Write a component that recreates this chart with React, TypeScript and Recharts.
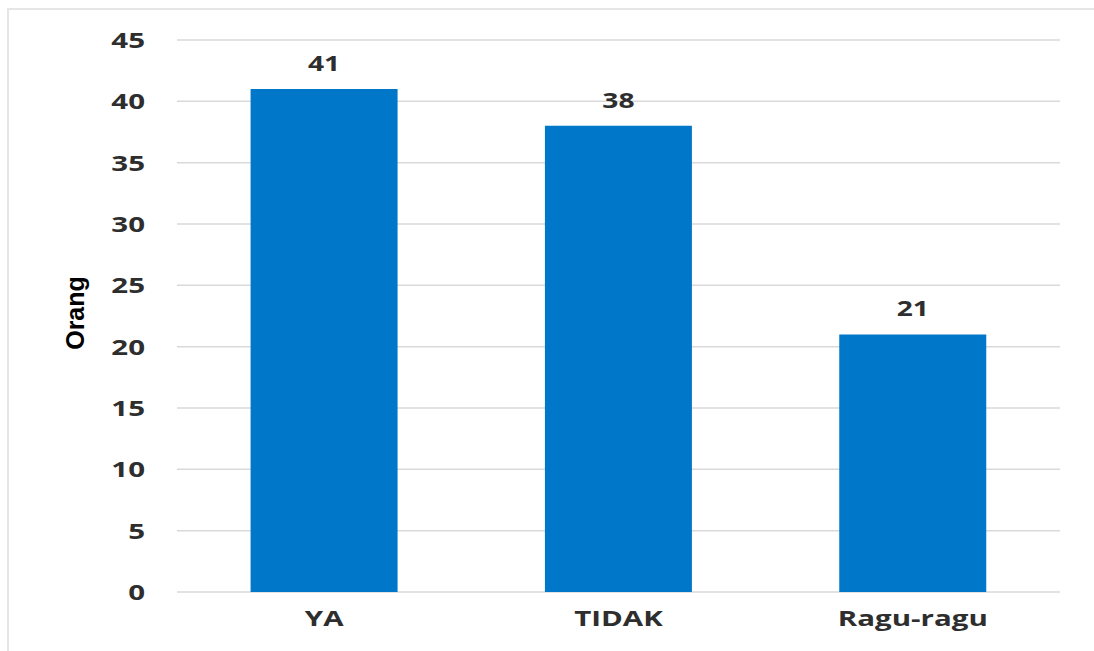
import React from "react";
import { BarChart, Bar, XAxis, YAxis, CartesianGrid, LabelList, Label } from "recharts";

const categories = ["YA", "TIDAK", "Ragu-ragu"];
const values = [41, 38, 21];
const yTicks = [0, 5, 10, 15, 20, 25, 30, 35, 40, 45];

const data = categories.map((name, i) => ({ name, value: values[i] }));

const textColor = "#2e2e2e";
const font = "'Open Sans', sans-serif";
const SX = 1.34;

function StretchText(props: { x: number; y: number; anchor: string; size: number; children: any }) {
  const { x, y, anchor, size, children } = props;
  return (
    <g transform={`translate(${x},${y}) scale(${SX},1)`}>
      <text x={0} y={0} textAnchor={anchor} fill={textColor} fontSize={size} fontWeight={700} fontFamily={font}>
        {children}
      </text>
    </g>
  );
}

const YTick = (props: any) => {
  const { x, y, payload } = props;
  return <StretchText x={x} y={y + 8} anchor="end" size={22}>{payload.value}</StretchText>;
};

const XTick = (props: any) => {
  const { x, y, payload } = props;
  return <StretchText x={x} y={y + 34} anchor="middle" size={22}>{payload.value}</StretchText>;
};

const TopLabel = (props: any) => {
  const { x, y, width, value } = props;
  return <StretchText x={x + width / 2} y={y - 18} anchor="middle" size={21}>{value}</StretchText>;
};

export default function App() {
  return (
    <div style={{ position: "absolute", left: 0, top: 0, width: 1094, height: 651, background: "#fff" }}>
      <div style={{ position: "absolute", left: 7, top: 8, width: 1087, height: 643, borderTop: "2px solid #e6e6e6", borderLeft: "2px solid #e6e6e6", boxSizing: "border-box" }} />
      <div style={{ position: "absolute", left: 0, top: 0 }}>
        <BarChart width={1094} height={651} data={data} margin={{ top: 40, right: 34, bottom: 29, left: 77 }} barCategoryGap="25%">
          <CartesianGrid vertical={false} stroke="#d9d9d9" strokeWidth={1.5} />
          <XAxis
            dataKey="name"
            height={30}
            axisLine={false}
            tickLine={false}
            tickSize={0}
            tickMargin={0}
            tick={<XTick />}
          />
          <YAxis
            width={100}
            domain={[0, 45]}
            ticks={yTicks}
            interval={0}
            axisLine={false}
            tickLine={false}
            tickSize={0}
            tickMargin={32}
            tick={<YTick />}
          >
            <Label
              value="Orang"
              angle={-90}
              position="insideLeft"
              offset={-2}
              dy={-3}
              style={{ fill: "#000", fontSize: 25, fontWeight: 700, fontFamily: "'Liberation Sans Narrow', 'Arial Narrow', sans-serif", textAnchor: "middle" }}
            />
          </YAxis>
          <Bar dataKey="value" fill="#0077C8" isAnimationActive={false}>
            <LabelList dataKey="value" content={<TopLabel />} />
          </Bar>
        </BarChart>
      </div>
    </div>
  );
}
